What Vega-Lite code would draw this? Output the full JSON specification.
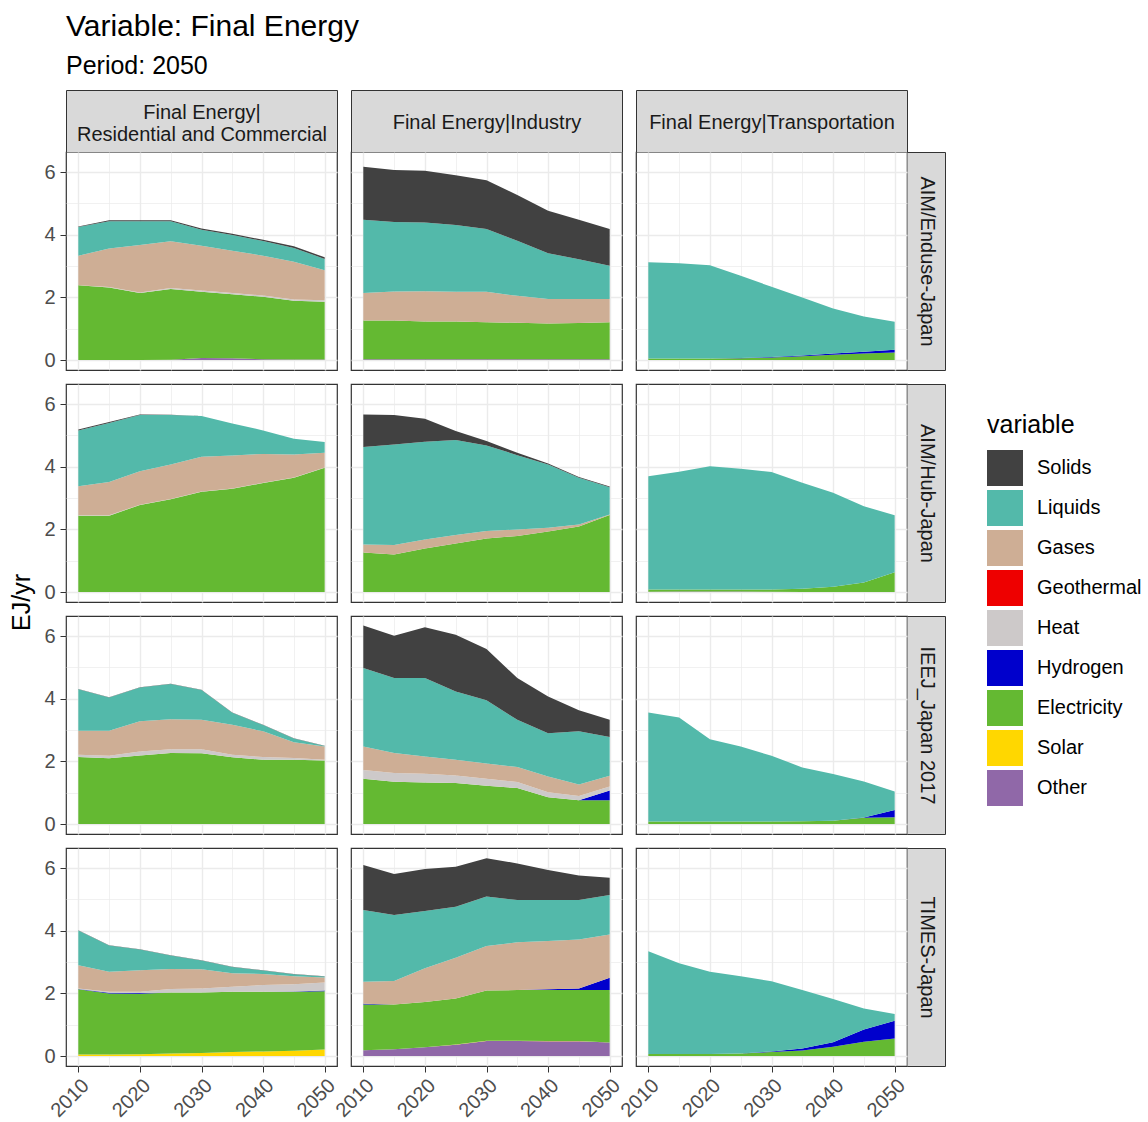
{
"$schema": "https://vega.github.io/schema/vega-lite/v6.json",
"padding": {"left": 8, "top": 11, "right": 4, "bottom": 4},
"title": {"text": "Variable: Final Energy", "subtitle": "Period: 2050", "anchor": "start", "frame": "group", "font": "Liberation Sans", "fontSize": 30, "fontWeight": "normal", "color": "#000000", "subtitleFont": "Liberation Sans", "subtitleFontSize": 25, "subtitleColor": "#000000", "subtitlePadding": 12, "offset": 10},
"datasets": {
"ord": [{"variable":"Other","rank":1},{"variable":"Solar","rank":2},{"variable":"Electricity","rank":3},{"variable":"Hydrogen","rank":4},{"variable":"Heat","rank":5},{"variable":"Geothermal","rank":6},{"variable":"Gases","rank":7},{"variable":"Liquids","rank":8},{"variable":"Solids","rank":9}],
"frame": [{"year":2010,"value":0}],
"enduse_res": [
{"variable":"Other","year":2010,"value":0},{"variable":"Other","year":2015,"value":0},{"variable":"Other","year":2020,"value":0},{"variable":"Other","year":2025,"value":0.01},{"variable":"Other","year":2030,"value":0.07},{"variable":"Other","year":2035,"value":0.06},{"variable":"Other","year":2040,"value":0.03},{"variable":"Other","year":2045,"value":0.02},{"variable":"Other","year":2050,"value":0.02},
{"variable":"Electricity","year":2010,"value":2.39},{"variable":"Electricity","year":2015,"value":2.32},{"variable":"Electricity","year":2020,"value":2.14},{"variable":"Electricity","year":2025,"value":2.26},{"variable":"Electricity","year":2030,"value":2.11},{"variable":"Electricity","year":2035,"value":2.04},{"variable":"Electricity","year":2040,"value":1.99},{"variable":"Electricity","year":2045,"value":1.87},{"variable":"Electricity","year":2050,"value":1.84},
{"variable":"Heat","year":2010,"value":0},{"variable":"Heat","year":2015,"value":0.01},{"variable":"Heat","year":2020,"value":0.02},{"variable":"Heat","year":2025,"value":0.03},{"variable":"Heat","year":2030,"value":0.04},{"variable":"Heat","year":2035,"value":0.04},{"variable":"Heat","year":2040,"value":0.04},{"variable":"Heat","year":2045,"value":0.04},{"variable":"Heat","year":2050,"value":0.05},
{"variable":"Gases","year":2010,"value":0.94},{"variable":"Gases","year":2015,"value":1.23},{"variable":"Gases","year":2020,"value":1.51},{"variable":"Gases","year":2025,"value":1.49},{"variable":"Gases","year":2030,"value":1.43},{"variable":"Gases","year":2035,"value":1.35},{"variable":"Gases","year":2040,"value":1.27},{"variable":"Gases","year":2045,"value":1.21},{"variable":"Gases","year":2050,"value":0.96},
{"variable":"Liquids","year":2010,"value":0.92},{"variable":"Liquids","year":2015,"value":0.87},{"variable":"Liquids","year":2020,"value":0.76},{"variable":"Liquids","year":2025,"value":0.64},{"variable":"Liquids","year":2030,"value":0.51},{"variable":"Liquids","year":2035,"value":0.50},{"variable":"Liquids","year":2040,"value":0.47},{"variable":"Liquids","year":2045,"value":0.44},{"variable":"Liquids","year":2050,"value":0.36},
{"variable":"Solids","year":2010,"value":0.01},{"variable":"Solids","year":2015,"value":0.03},{"variable":"Solids","year":2020,"value":0.03},{"variable":"Solids","year":2025,"value":0.03},{"variable":"Solids","year":2030,"value":0.04},{"variable":"Solids","year":2035,"value":0.04},{"variable":"Solids","year":2040,"value":0.04},{"variable":"Solids","year":2045,"value":0.05},{"variable":"Solids","year":2050,"value":0.05}
],
"enduse_ind": [
{"variable":"Other","year":2010,"value":0.03},{"variable":"Other","year":2015,"value":0.03},{"variable":"Other","year":2020,"value":0.03},{"variable":"Other","year":2025,"value":0.03},{"variable":"Other","year":2030,"value":0.03},{"variable":"Other","year":2035,"value":0.03},{"variable":"Other","year":2040,"value":0.03},{"variable":"Other","year":2045,"value":0.03},{"variable":"Other","year":2050,"value":0.03},
{"variable":"Electricity","year":2010,"value":1.23},{"variable":"Electricity","year":2015,"value":1.23},{"variable":"Electricity","year":2020,"value":1.20},{"variable":"Electricity","year":2025,"value":1.20},{"variable":"Electricity","year":2030,"value":1.18},{"variable":"Electricity","year":2035,"value":1.16},{"variable":"Electricity","year":2040,"value":1.14},{"variable":"Electricity","year":2045,"value":1.15},{"variable":"Electricity","year":2050,"value":1.18},
{"variable":"Gases","year":2010,"value":0.88},{"variable":"Gases","year":2015,"value":0.93},{"variable":"Gases","year":2020,"value":0.97},{"variable":"Gases","year":2025,"value":0.95},{"variable":"Gases","year":2030,"value":0.97},{"variable":"Gases","year":2035,"value":0.86},{"variable":"Gases","year":2040,"value":0.78},{"variable":"Gases","year":2045,"value":0.77},{"variable":"Gases","year":2050,"value":0.74},
{"variable":"Liquids","year":2010,"value":2.34},{"variable":"Liquids","year":2015,"value":2.22},{"variable":"Liquids","year":2020,"value":2.19},{"variable":"Liquids","year":2025,"value":2.13},{"variable":"Liquids","year":2030,"value":2.00},{"variable":"Liquids","year":2035,"value":1.76},{"variable":"Liquids","year":2040,"value":1.46},{"variable":"Liquids","year":2045,"value":1.27},{"variable":"Liquids","year":2050,"value":1.06},
{"variable":"Solids","year":2010,"value":1.69},{"variable":"Solids","year":2015,"value":1.66},{"variable":"Solids","year":2020,"value":1.65},{"variable":"Solids","year":2025,"value":1.59},{"variable":"Solids","year":2030,"value":1.56},{"variable":"Solids","year":2035,"value":1.46},{"variable":"Solids","year":2040,"value":1.36},{"variable":"Solids","year":2045,"value":1.26},{"variable":"Solids","year":2050,"value":1.17}
],
"enduse_tra": [
{"variable":"Electricity","year":2010,"value":0.05},{"variable":"Electricity","year":2015,"value":0.05},{"variable":"Electricity","year":2020,"value":0.05},{"variable":"Electricity","year":2025,"value":0.06},{"variable":"Electricity","year":2030,"value":0.08},{"variable":"Electricity","year":2035,"value":0.12},{"variable":"Electricity","year":2040,"value":0.17},{"variable":"Electricity","year":2045,"value":0.21},{"variable":"Electricity","year":2050,"value":0.24},
{"variable":"Hydrogen","year":2010,"value":0},{"variable":"Hydrogen","year":2015,"value":0},{"variable":"Hydrogen","year":2020,"value":0},{"variable":"Hydrogen","year":2025,"value":0.01},{"variable":"Hydrogen","year":2030,"value":0.02},{"variable":"Hydrogen","year":2035,"value":0.03},{"variable":"Hydrogen","year":2040,"value":0.04},{"variable":"Hydrogen","year":2045,"value":0.06},{"variable":"Hydrogen","year":2050,"value":0.09},
{"variable":"Liquids","year":2010,"value":3.07},{"variable":"Liquids","year":2015,"value":3.04},{"variable":"Liquids","year":2020,"value":2.98},{"variable":"Liquids","year":2025,"value":2.62},{"variable":"Liquids","year":2030,"value":2.24},{"variable":"Liquids","year":2035,"value":1.85},{"variable":"Liquids","year":2040,"value":1.44},{"variable":"Liquids","year":2045,"value":1.12},{"variable":"Liquids","year":2050,"value":0.89}
],
"hub_res": [
{"variable":"Electricity","year":2010,"value":2.44},{"variable":"Electricity","year":2015,"value":2.44},{"variable":"Electricity","year":2020,"value":2.78},{"variable":"Electricity","year":2025,"value":2.96},{"variable":"Electricity","year":2030,"value":3.20},{"variable":"Electricity","year":2035,"value":3.30},{"variable":"Electricity","year":2040,"value":3.48},{"variable":"Electricity","year":2045,"value":3.65},{"variable":"Electricity","year":2050,"value":3.97},
{"variable":"Heat","year":2010,"value":0.01},{"variable":"Heat","year":2015,"value":0.01},{"variable":"Heat","year":2020,"value":0.01},{"variable":"Heat","year":2025,"value":0.01},{"variable":"Heat","year":2030,"value":0.01},{"variable":"Heat","year":2035,"value":0.01},{"variable":"Heat","year":2040,"value":0.01},{"variable":"Heat","year":2045,"value":0.01},{"variable":"Heat","year":2050,"value":0.01},
{"variable":"Gases","year":2010,"value":0.93},{"variable":"Gases","year":2015,"value":1.06},{"variable":"Gases","year":2020,"value":1.07},{"variable":"Gases","year":2025,"value":1.10},{"variable":"Gases","year":2030,"value":1.11},{"variable":"Gases","year":2035,"value":1.05},{"variable":"Gases","year":2040,"value":0.92},{"variable":"Gases","year":2045,"value":0.73},{"variable":"Gases","year":2050,"value":0.47},
{"variable":"Liquids","year":2010,"value":1.78},{"variable":"Liquids","year":2015,"value":1.89},{"variable":"Liquids","year":2020,"value":1.79},{"variable":"Liquids","year":2025,"value":1.58},{"variable":"Liquids","year":2030,"value":1.30},{"variable":"Liquids","year":2035,"value":1.02},{"variable":"Liquids","year":2040,"value":0.75},{"variable":"Liquids","year":2045,"value":0.50},{"variable":"Liquids","year":2050,"value":0.34},
{"variable":"Solids","year":2010,"value":0.03},{"variable":"Solids","year":2015,"value":0.03},{"variable":"Solids","year":2020,"value":0.02},{"variable":"Solids","year":2025,"value":0.01},{"variable":"Solids","year":2030,"value":0},{"variable":"Solids","year":2035,"value":0},{"variable":"Solids","year":2040,"value":0},{"variable":"Solids","year":2045,"value":0},{"variable":"Solids","year":2050,"value":0}
],
"hub_ind": [
{"variable":"Electricity","year":2010,"value":1.26},{"variable":"Electricity","year":2015,"value":1.20},{"variable":"Electricity","year":2020,"value":1.39},{"variable":"Electricity","year":2025,"value":1.55},{"variable":"Electricity","year":2030,"value":1.71},{"variable":"Electricity","year":2035,"value":1.79},{"variable":"Electricity","year":2040,"value":1.93},{"variable":"Electricity","year":2045,"value":2.09},{"variable":"Electricity","year":2050,"value":2.46},
{"variable":"Gases","year":2010,"value":0.26},{"variable":"Gases","year":2015,"value":0.30},{"variable":"Gases","year":2020,"value":0.29},{"variable":"Gases","year":2025,"value":0.27},{"variable":"Gases","year":2030,"value":0.24},{"variable":"Gases","year":2035,"value":0.21},{"variable":"Gases","year":2040,"value":0.12},{"variable":"Gases","year":2045,"value":0.07},{"variable":"Gases","year":2050,"value":0.02},
{"variable":"Liquids","year":2010,"value":3.11},{"variable":"Liquids","year":2015,"value":3.21},{"variable":"Liquids","year":2020,"value":3.12},{"variable":"Liquids","year":2025,"value":3.03},{"variable":"Liquids","year":2030,"value":2.73},{"variable":"Liquids","year":2035,"value":2.37},{"variable":"Liquids","year":2040,"value":2.02},{"variable":"Liquids","year":2045,"value":1.49},{"variable":"Liquids","year":2050,"value":0.87},
{"variable":"Solids","year":2010,"value":1.04},{"variable":"Solids","year":2015,"value":0.94},{"variable":"Solids","year":2020,"value":0.73},{"variable":"Solids","year":2025,"value":0.29},{"variable":"Solids","year":2030,"value":0.14},{"variable":"Solids","year":2035,"value":0.08},{"variable":"Solids","year":2040,"value":0.03},{"variable":"Solids","year":2045,"value":0.02},{"variable":"Solids","year":2050,"value":0.02}
],
"hub_tra": [
{"variable":"Other","year":2010,"value":0.01},{"variable":"Other","year":2015,"value":0.02},{"variable":"Other","year":2020,"value":0.02},{"variable":"Other","year":2025,"value":0.02},{"variable":"Other","year":2030,"value":0.01},{"variable":"Other","year":2035,"value":0},{"variable":"Other","year":2040,"value":0},{"variable":"Other","year":2045,"value":0},{"variable":"Other","year":2050,"value":0},
{"variable":"Electricity","year":2010,"value":0.07},{"variable":"Electricity","year":2015,"value":0.06},{"variable":"Electricity","year":2020,"value":0.06},{"variable":"Electricity","year":2025,"value":0.06},{"variable":"Electricity","year":2030,"value":0.07},{"variable":"Electricity","year":2035,"value":0.11},{"variable":"Electricity","year":2040,"value":0.17},{"variable":"Electricity","year":2045,"value":0.31},{"variable":"Electricity","year":2050,"value":0.63},
{"variable":"Liquids","year":2010,"value":3.62},{"variable":"Liquids","year":2015,"value":3.76},{"variable":"Liquids","year":2020,"value":3.94},{"variable":"Liquids","year":2025,"value":3.86},{"variable":"Liquids","year":2030,"value":3.75},{"variable":"Liquids","year":2035,"value":3.38},{"variable":"Liquids","year":2040,"value":3.00},{"variable":"Liquids","year":2045,"value":2.43},{"variable":"Liquids","year":2050,"value":1.82}
],
"ieej_res": [
{"variable":"Electricity","year":2010,"value":2.14},{"variable":"Electricity","year":2015,"value":2.10},{"variable":"Electricity","year":2020,"value":2.19},{"variable":"Electricity","year":2025,"value":2.27},{"variable":"Electricity","year":2030,"value":2.26},{"variable":"Electricity","year":2035,"value":2.13},{"variable":"Electricity","year":2040,"value":2.05},{"variable":"Electricity","year":2045,"value":2.05},{"variable":"Electricity","year":2050,"value":2.03},
{"variable":"Heat","year":2010,"value":0.07},{"variable":"Heat","year":2015,"value":0.08},{"variable":"Heat","year":2020,"value":0.13},{"variable":"Heat","year":2025,"value":0.12},{"variable":"Heat","year":2030,"value":0.13},{"variable":"Heat","year":2035,"value":0.08},{"variable":"Heat","year":2040,"value":0.09},{"variable":"Heat","year":2045,"value":0.06},{"variable":"Heat","year":2050,"value":0.02},
{"variable":"Gases","year":2010,"value":0.77},{"variable":"Gases","year":2015,"value":0.80},{"variable":"Gases","year":2020,"value":0.96},{"variable":"Gases","year":2025,"value":0.96},{"variable":"Gases","year":2030,"value":0.94},{"variable":"Gases","year":2035,"value":0.96},{"variable":"Gases","year":2040,"value":0.82},{"variable":"Gases","year":2045,"value":0.50},{"variable":"Gases","year":2050,"value":0.43},
{"variable":"Liquids","year":2010,"value":1.32},{"variable":"Liquids","year":2015,"value":1.06},{"variable":"Liquids","year":2020,"value":1.08},{"variable":"Liquids","year":2025,"value":1.12},{"variable":"Liquids","year":2030,"value":0.95},{"variable":"Liquids","year":2035,"value":0.38},{"variable":"Liquids","year":2040,"value":0.20},{"variable":"Liquids","year":2045,"value":0.12},{"variable":"Liquids","year":2050,"value":0.01},
{"variable":"Solids","year":2010,"value":0.01},{"variable":"Solids","year":2015,"value":0.01},{"variable":"Solids","year":2020,"value":0.01},{"variable":"Solids","year":2025,"value":0.01},{"variable":"Solids","year":2030,"value":0.01},{"variable":"Solids","year":2035,"value":0.01},{"variable":"Solids","year":2040,"value":0.01},{"variable":"Solids","year":2045,"value":0.01},{"variable":"Solids","year":2050,"value":0.01}
],
"ieej_ind": [
{"variable":"Electricity","year":2010,"value":1.45},{"variable":"Electricity","year":2015,"value":1.35},{"variable":"Electricity","year":2020,"value":1.33},{"variable":"Electricity","year":2025,"value":1.31},{"variable":"Electricity","year":2030,"value":1.22},{"variable":"Electricity","year":2035,"value":1.15},{"variable":"Electricity","year":2040,"value":0.86},{"variable":"Electricity","year":2045,"value":0.76},{"variable":"Electricity","year":2050,"value":0.76},
{"variable":"Hydrogen","year":2010,"value":0},{"variable":"Hydrogen","year":2015,"value":0},{"variable":"Hydrogen","year":2020,"value":0},{"variable":"Hydrogen","year":2025,"value":0},{"variable":"Hydrogen","year":2030,"value":0},{"variable":"Hydrogen","year":2035,"value":0},{"variable":"Hydrogen","year":2040,"value":0},{"variable":"Hydrogen","year":2045,"value":0},{"variable":"Hydrogen","year":2050,"value":0.31},
{"variable":"Heat","year":2010,"value":0.28},{"variable":"Heat","year":2015,"value":0.28},{"variable":"Heat","year":2020,"value":0.28},{"variable":"Heat","year":2025,"value":0.24},{"variable":"Heat","year":2030,"value":0.23},{"variable":"Heat","year":2035,"value":0.19},{"variable":"Heat","year":2040,"value":0.16},{"variable":"Heat","year":2045,"value":0.14},{"variable":"Heat","year":2050,"value":0.13},
{"variable":"Gases","year":2010,"value":0.75},{"variable":"Gases","year":2015,"value":0.64},{"variable":"Gases","year":2020,"value":0.55},{"variable":"Gases","year":2025,"value":0.50},{"variable":"Gases","year":2030,"value":0.48},{"variable":"Gases","year":2035,"value":0.48},{"variable":"Gases","year":2040,"value":0.50},{"variable":"Gases","year":2045,"value":0.36},{"variable":"Gases","year":2050,"value":0.34},
{"variable":"Liquids","year":2010,"value":2.50},{"variable":"Liquids","year":2015,"value":2.39},{"variable":"Liquids","year":2020,"value":2.50},{"variable":"Liquids","year":2025,"value":2.18},{"variable":"Liquids","year":2030,"value":2.02},{"variable":"Liquids","year":2035,"value":1.51},{"variable":"Liquids","year":2040,"value":1.38},{"variable":"Liquids","year":2045,"value":1.70},{"variable":"Liquids","year":2050,"value":1.24},
{"variable":"Solids","year":2010,"value":1.36},{"variable":"Solids","year":2015,"value":1.35},{"variable":"Solids","year":2020,"value":1.62},{"variable":"Solids","year":2025,"value":1.81},{"variable":"Solids","year":2030,"value":1.64},{"variable":"Solids","year":2035,"value":1.33},{"variable":"Solids","year":2040,"value":1.17},{"variable":"Solids","year":2045,"value":0.67},{"variable":"Solids","year":2050,"value":0.55}
],
"ieej_tra": [
{"variable":"Electricity","year":2010,"value":0.08},{"variable":"Electricity","year":2015,"value":0.08},{"variable":"Electricity","year":2020,"value":0.08},{"variable":"Electricity","year":2025,"value":0.08},{"variable":"Electricity","year":2030,"value":0.08},{"variable":"Electricity","year":2035,"value":0.09},{"variable":"Electricity","year":2040,"value":0.11},{"variable":"Electricity","year":2045,"value":0.20},{"variable":"Electricity","year":2050,"value":0.22},
{"variable":"Hydrogen","year":2010,"value":0},{"variable":"Hydrogen","year":2015,"value":0},{"variable":"Hydrogen","year":2020,"value":0},{"variable":"Hydrogen","year":2025,"value":0},{"variable":"Hydrogen","year":2030,"value":0},{"variable":"Hydrogen","year":2035,"value":0},{"variable":"Hydrogen","year":2040,"value":0},{"variable":"Hydrogen","year":2045,"value":0.01},{"variable":"Hydrogen","year":2050,"value":0.23},
{"variable":"Liquids","year":2010,"value":3.48},{"variable":"Liquids","year":2015,"value":3.32},{"variable":"Liquids","year":2020,"value":2.63},{"variable":"Liquids","year":2025,"value":2.40},{"variable":"Liquids","year":2030,"value":2.10},{"variable":"Liquids","year":2035,"value":1.72},{"variable":"Liquids","year":2040,"value":1.49},{"variable":"Liquids","year":2045,"value":1.15},{"variable":"Liquids","year":2050,"value":0.59}
],
"times_res": [
{"variable":"Solar","year":2010,"value":0.05},{"variable":"Solar","year":2015,"value":0.05},{"variable":"Solar","year":2020,"value":0.06},{"variable":"Solar","year":2025,"value":0.08},{"variable":"Solar","year":2030,"value":0.10},{"variable":"Solar","year":2035,"value":0.13},{"variable":"Solar","year":2040,"value":0.15},{"variable":"Solar","year":2045,"value":0.17},{"variable":"Solar","year":2050,"value":0.21},
{"variable":"Electricity","year":2010,"value":2.08},{"variable":"Electricity","year":2015,"value":1.95},{"variable":"Electricity","year":2020,"value":1.93},{"variable":"Electricity","year":2025,"value":1.95},{"variable":"Electricity","year":2030,"value":1.93},{"variable":"Electricity","year":2035,"value":1.92},{"variable":"Electricity","year":2040,"value":1.90},{"variable":"Electricity","year":2045,"value":1.88},{"variable":"Electricity","year":2050,"value":1.86},
{"variable":"Hydrogen","year":2010,"value":0.01},{"variable":"Hydrogen","year":2015,"value":0.02},{"variable":"Hydrogen","year":2020,"value":0.02},{"variable":"Hydrogen","year":2025,"value":0},{"variable":"Hydrogen","year":2030,"value":0},{"variable":"Hydrogen","year":2035,"value":0},{"variable":"Hydrogen","year":2040,"value":0},{"variable":"Hydrogen","year":2045,"value":0.01},{"variable":"Hydrogen","year":2050,"value":0.02},
{"variable":"Heat","year":2010,"value":0.02},{"variable":"Heat","year":2015,"value":0.03},{"variable":"Heat","year":2020,"value":0.04},{"variable":"Heat","year":2025,"value":0.11},{"variable":"Heat","year":2030,"value":0.13},{"variable":"Heat","year":2035,"value":0.16},{"variable":"Heat","year":2040,"value":0.22},{"variable":"Heat","year":2045,"value":0.23},{"variable":"Heat","year":2050,"value":0.26},
{"variable":"Gases","year":2010,"value":0.74},{"variable":"Gases","year":2015,"value":0.64},{"variable":"Gases","year":2020,"value":0.69},{"variable":"Gases","year":2025,"value":0.64},{"variable":"Gases","year":2030,"value":0.61},{"variable":"Gases","year":2035,"value":0.43},{"variable":"Gases","year":2040,"value":0.35},{"variable":"Gases","year":2045,"value":0.26},{"variable":"Gases","year":2050,"value":0.16},
{"variable":"Liquids","year":2010,"value":1.11},{"variable":"Liquids","year":2015,"value":0.84},{"variable":"Liquids","year":2020,"value":0.66},{"variable":"Liquids","year":2025,"value":0.43},{"variable":"Liquids","year":2030,"value":0.28},{"variable":"Liquids","year":2035,"value":0.20},{"variable":"Liquids","year":2040,"value":0.11},{"variable":"Liquids","year":2045,"value":0.06},{"variable":"Liquids","year":2050,"value":0.03},
{"variable":"Solids","year":2010,"value":0.01},{"variable":"Solids","year":2015,"value":0.01},{"variable":"Solids","year":2020,"value":0.01},{"variable":"Solids","year":2025,"value":0.01},{"variable":"Solids","year":2030,"value":0.01},{"variable":"Solids","year":2035,"value":0.01},{"variable":"Solids","year":2040,"value":0.01},{"variable":"Solids","year":2045,"value":0.01},{"variable":"Solids","year":2050,"value":0.01}
],
"times_ind": [
{"variable":"Other","year":2010,"value":0.19},{"variable":"Other","year":2015,"value":0.22},{"variable":"Other","year":2020,"value":0.28},{"variable":"Other","year":2025,"value":0.36},{"variable":"Other","year":2030,"value":0.48},{"variable":"Other","year":2035,"value":0.48},{"variable":"Other","year":2040,"value":0.47},{"variable":"Other","year":2045,"value":0.47},{"variable":"Other","year":2050,"value":0.43},
{"variable":"Solar","year":2010,"value":0},{"variable":"Solar","year":2015,"value":0},{"variable":"Solar","year":2020,"value":0},{"variable":"Solar","year":2025,"value":0.01},{"variable":"Solar","year":2030,"value":0.01},{"variable":"Solar","year":2035,"value":0.01},{"variable":"Solar","year":2040,"value":0.01},{"variable":"Solar","year":2045,"value":0.01},{"variable":"Solar","year":2050,"value":0},
{"variable":"Electricity","year":2010,"value":1.46},{"variable":"Electricity","year":2015,"value":1.43},{"variable":"Electricity","year":2020,"value":1.45},{"variable":"Electricity","year":2025,"value":1.47},{"variable":"Electricity","year":2030,"value":1.60},{"variable":"Electricity","year":2035,"value":1.62},{"variable":"Electricity","year":2040,"value":1.63},{"variable":"Electricity","year":2045,"value":1.63},{"variable":"Electricity","year":2050,"value":1.68},
{"variable":"Hydrogen","year":2010,"value":0.02},{"variable":"Hydrogen","year":2015,"value":0},{"variable":"Hydrogen","year":2020,"value":0},{"variable":"Hydrogen","year":2025,"value":0},{"variable":"Hydrogen","year":2030,"value":0},{"variable":"Hydrogen","year":2035,"value":0},{"variable":"Hydrogen","year":2040,"value":0.02},{"variable":"Hydrogen","year":2045,"value":0.05},{"variable":"Hydrogen","year":2050,"value":0.39},
{"variable":"Gases","year":2010,"value":0.70},{"variable":"Gases","year":2015,"value":0.75},{"variable":"Gases","year":2020,"value":1.07},{"variable":"Gases","year":2025,"value":1.30},{"variable":"Gases","year":2030,"value":1.42},{"variable":"Gases","year":2035,"value":1.52},{"variable":"Gases","year":2040,"value":1.54},{"variable":"Gases","year":2045,"value":1.56},{"variable":"Gases","year":2050,"value":1.38},
{"variable":"Liquids","year":2010,"value":2.29},{"variable":"Liquids","year":2015,"value":2.10},{"variable":"Liquids","year":2020,"value":1.83},{"variable":"Liquids","year":2025,"value":1.63},{"variable":"Liquids","year":2030,"value":1.58},{"variable":"Liquids","year":2035,"value":1.35},{"variable":"Liquids","year":2040,"value":1.31},{"variable":"Liquids","year":2045,"value":1.26},{"variable":"Liquids","year":2050,"value":1.26},
{"variable":"Solids","year":2010,"value":1.44},{"variable":"Solids","year":2015,"value":1.31},{"variable":"Solids","year":2020,"value":1.34},{"variable":"Solids","year":2025,"value":1.27},{"variable":"Solids","year":2030,"value":1.22},{"variable":"Solids","year":2035,"value":1.17},{"variable":"Solids","year":2040,"value":0.96},{"variable":"Solids","year":2045,"value":0.78},{"variable":"Solids","year":2050,"value":0.55}
],
"times_tra": [
{"variable":"Electricity","year":2010,"value":0.07},{"variable":"Electricity","year":2015,"value":0.07},{"variable":"Electricity","year":2020,"value":0.07},{"variable":"Electricity","year":2025,"value":0.08},{"variable":"Electricity","year":2030,"value":0.13},{"variable":"Electricity","year":2035,"value":0.18},{"variable":"Electricity","year":2040,"value":0.30},{"variable":"Electricity","year":2045,"value":0.46},{"variable":"Electricity","year":2050,"value":0.56},
{"variable":"Hydrogen","year":2010,"value":0},{"variable":"Hydrogen","year":2015,"value":0},{"variable":"Hydrogen","year":2020,"value":0},{"variable":"Hydrogen","year":2025,"value":0},{"variable":"Hydrogen","year":2030,"value":0.02},{"variable":"Hydrogen","year":2035,"value":0.06},{"variable":"Hydrogen","year":2040,"value":0.14},{"variable":"Hydrogen","year":2045,"value":0.39},{"variable":"Hydrogen","year":2050,"value":0.57},
{"variable":"Liquids","year":2010,"value":3.28},{"variable":"Liquids","year":2015,"value":2.89},{"variable":"Liquids","year":2020,"value":2.62},{"variable":"Liquids","year":2025,"value":2.47},{"variable":"Liquids","year":2030,"value":2.24},{"variable":"Liquids","year":2035,"value":1.87},{"variable":"Liquids","year":2040,"value":1.38},{"variable":"Liquids","year":2045,"value":0.67},{"variable":"Liquids","year":2050,"value":0.21}
]
},
"columns": 3,
"spacing": 14,
"bounds": "flush",
"concat": [
{"width":271,"height":218,"resolve":{"axis":{"x":"independent","y":"independent"}},"layer":[
 {"data":{"name":"enduse_res"},"transform":[{"lookup":"variable","from":{"data":{"name":"ord"},"key":"variable","fields":["rank"]}}],"mark":{"type":"area","opacity":1},
  "encoding":{"x":{"field":"year","type":"quantitative","scale":{"domain":[2008,2052],"nice":false,"zero":false},"axis":{"values":[2010,2015,2020,2025,2030,2035,2040,2045,2050],"labels":false,"ticks":false,"domain":false,"grid":true,"gridColor":"#ebebeb","gridWidth":{"condition":{"test":"datum.value % 10 !== 0","value":0.7},"value":1.4},"title":null}},
   "y":{"field":"value","type":"quantitative","stack":"zero","scale":{"domain":[-0.316,6.641],"nice":false,"zero":false},"axis":{"values":[0,1,2,3,4,5,6],"labelExpr":"datum.value % 2 === 0 ? datum.label : ''","labelFontSize":20,"labelColor":"#4d4d4d","labelPadding":5,"ticks":true,"tickSize":6,"tickColor":"#333333","tickOpacity":{"condition":{"test":"datum.value % 2 !== 0","value":0},"value":1},"domain":false,"grid":true,"gridColor":"#ebebeb","gridWidth":{"condition":{"test":"datum.value % 2 !== 0","value":0.7},"value":1.4},"title":null}},
   "color":{"field":"variable","type":"nominal","scale":{"domain":["Solids","Liquids","Gases","Geothermal","Heat","Hydrogen","Electricity","Solar","Other"],"range":["#414141","#53b9aa","#ceae95","#ee0000","#cdc9c9","#0000cc","#64b932","#ffd700","#9068a8"]},"legend":{"title":"variable"}},
   "order":{"field":"rank","type":"quantitative"}}},
 {"data":{"name":"frame"},"mark":{"type":"point","opacity":0},"encoding":{"x":{"field":"year","type":"quantitative","scale":{"domain":[2008,2052],"nice":false,"zero":false},"axis":{"orient":"top","offset":31,"domain":true,"domainColor":"#d9d9d9","domainWidth":62,"ticks":false,"labels":false,"grid":false,"title":["Final Energy|","Residential and Commercial"],"titleFontSize":20,"titleFontWeight":"normal","titleColor":"#1a1a1a","titleX":135.5,"titleY":-9,"titleAlign":"center","titleBaseline":"middle","titleLineHeight":22,"titleAngle":0}},"y":{"field":"value","type":"quantitative","scale":{"domain":[-0.316,6.641],"nice":false,"zero":false},"axis":null}}},
 {"data":{"name":"frame"},"mark":{"type":"point","opacity":0},"encoding":{"x":{"field":"year","type":"quantitative","scale":{"domain":[2008,2052],"nice":false,"zero":false},"axis":{"orient":"top","offset":62,"domain":true,"domainColor":"#333333","domainWidth":1,"ticks":true,"values":[2008,2052],"tickSize":-62,"tickColor":"#333333","tickWidth":1,"labels":false,"grid":false,"title":null,"zindex":1}},"y":{"field":"value","type":"quantitative","scale":{"domain":[-0.316,6.641],"nice":false,"zero":false},"axis":null}}}
]},
{"width":271,"height":218,"resolve":{"axis":{"x":"independent","y":"independent"}},"layer":[
 {"data":{"name":"enduse_ind"},"transform":[{"lookup":"variable","from":{"data":{"name":"ord"},"key":"variable","fields":["rank"]}}],"mark":{"type":"area","opacity":1},
  "encoding":{"x":{"field":"year","type":"quantitative","scale":{"domain":[2008,2052],"nice":false,"zero":false},"axis":{"values":[2010,2015,2020,2025,2030,2035,2040,2045,2050],"labels":false,"ticks":false,"domain":false,"grid":true,"gridColor":"#ebebeb","gridWidth":{"condition":{"test":"datum.value % 10 !== 0","value":0.7},"value":1.4},"title":null}},
   "y":{"field":"value","type":"quantitative","stack":"zero","scale":{"domain":[-0.316,6.641],"nice":false,"zero":false},"axis":{"values":[0,1,2,3,4,5,6],"labels":false,"ticks":false,"domain":false,"grid":true,"gridColor":"#ebebeb","gridWidth":{"condition":{"test":"datum.value % 2 !== 0","value":0.7},"value":1.4},"title":null}},
   "color":{"field":"variable","type":"nominal","scale":{"domain":["Solids","Liquids","Gases","Geothermal","Heat","Hydrogen","Electricity","Solar","Other"],"range":["#414141","#53b9aa","#ceae95","#ee0000","#cdc9c9","#0000cc","#64b932","#ffd700","#9068a8"]},"legend":{"title":"variable"}},
   "order":{"field":"rank","type":"quantitative"}}},
 {"data":{"name":"frame"},"mark":{"type":"point","opacity":0},"encoding":{"x":{"field":"year","type":"quantitative","scale":{"domain":[2008,2052],"nice":false,"zero":false},"axis":{"orient":"top","offset":31,"domain":true,"domainColor":"#d9d9d9","domainWidth":62,"ticks":false,"labels":false,"grid":false,"title":"Final Energy|Industry","titleFontSize":20,"titleFontWeight":"normal","titleColor":"#1a1a1a","titleX":135.5,"titleY":1,"titleAlign":"center","titleBaseline":"middle","titleLineHeight":22,"titleAngle":0}},"y":{"field":"value","type":"quantitative","scale":{"domain":[-0.316,6.641],"nice":false,"zero":false},"axis":null}}},
 {"data":{"name":"frame"},"mark":{"type":"point","opacity":0},"encoding":{"x":{"field":"year","type":"quantitative","scale":{"domain":[2008,2052],"nice":false,"zero":false},"axis":{"orient":"top","offset":62,"domain":true,"domainColor":"#333333","domainWidth":1,"ticks":true,"values":[2008,2052],"tickSize":-62,"tickColor":"#333333","tickWidth":1,"labels":false,"grid":false,"title":null,"zindex":1}},"y":{"field":"value","type":"quantitative","scale":{"domain":[-0.316,6.641],"nice":false,"zero":false},"axis":null}}}
]},
{"width":271,"height":218,"resolve":{"axis":{"x":"independent","y":"independent"}},"layer":[
 {"data":{"name":"enduse_tra"},"transform":[{"lookup":"variable","from":{"data":{"name":"ord"},"key":"variable","fields":["rank"]}}],"mark":{"type":"area","opacity":1},
  "encoding":{"x":{"field":"year","type":"quantitative","scale":{"domain":[2008,2052],"nice":false,"zero":false},"axis":{"values":[2010,2015,2020,2025,2030,2035,2040,2045,2050],"labels":false,"ticks":false,"domain":false,"grid":true,"gridColor":"#ebebeb","gridWidth":{"condition":{"test":"datum.value % 10 !== 0","value":0.7},"value":1.4},"title":null}},
   "y":{"field":"value","type":"quantitative","stack":"zero","scale":{"domain":[-0.316,6.641],"nice":false,"zero":false},"axis":{"values":[0,1,2,3,4,5,6],"labels":false,"ticks":false,"domain":false,"grid":true,"gridColor":"#ebebeb","gridWidth":{"condition":{"test":"datum.value % 2 !== 0","value":0.7},"value":1.4},"title":null}},
   "color":{"field":"variable","type":"nominal","scale":{"domain":["Solids","Liquids","Gases","Geothermal","Heat","Hydrogen","Electricity","Solar","Other"],"range":["#414141","#53b9aa","#ceae95","#ee0000","#cdc9c9","#0000cc","#64b932","#ffd700","#9068a8"]},"legend":{"title":"variable"}},
   "order":{"field":"rank","type":"quantitative"}}},
 {"data":{"name":"frame"},"mark":{"type":"point","opacity":0},"encoding":{"x":{"field":"year","type":"quantitative","scale":{"domain":[2008,2052],"nice":false,"zero":false},"axis":{"orient":"top","offset":31,"domain":true,"domainColor":"#d9d9d9","domainWidth":62,"ticks":false,"labels":false,"grid":false,"title":"Final Energy|Transportation","titleFontSize":20,"titleFontWeight":"normal","titleColor":"#1a1a1a","titleX":135.5,"titleY":1,"titleAlign":"center","titleBaseline":"middle","titleLineHeight":22,"titleAngle":0}},"y":{"field":"value","type":"quantitative","scale":{"domain":[-0.316,6.641],"nice":false,"zero":false},"axis":null}}},
 {"data":{"name":"frame"},"mark":{"type":"point","opacity":0},"encoding":{"x":{"field":"year","type":"quantitative","scale":{"domain":[2008,2052],"nice":false,"zero":false},"axis":{"orient":"top","offset":62,"domain":true,"domainColor":"#333333","domainWidth":1,"ticks":true,"values":[2008,2052],"tickSize":-62,"tickColor":"#333333","tickWidth":1,"labels":false,"grid":false,"title":null,"zindex":1}},"y":{"field":"value","type":"quantitative","scale":{"domain":[-0.316,6.641],"nice":false,"zero":false},"axis":null}}},
 {"data":{"name":"frame"},"mark":{"type":"point","opacity":0},"encoding":{"x":{"field":"year","type":"quantitative","scale":{"domain":[2008,2052],"nice":false,"zero":false},"axis":null},"y":{"field":"value","type":"quantitative","scale":{"domain":[-0.316,6.641],"nice":false,"zero":false},"axis":{"orient":"right","offset":19,"domain":true,"domainColor":"#d9d9d9","domainWidth":38,"ticks":false,"labels":false,"grid":false,"title":"AIM/Enduse-Japan","titleFontSize":20,"titleFontWeight":"normal","titleColor":"#1a1a1a","titleX":0,"titleY":109,"titleAngle":90,"titleAlign":"center","titleBaseline":"middle"}}}},
 {"data":{"name":"frame"},"mark":{"type":"point","opacity":0},"encoding":{"x":{"field":"year","type":"quantitative","scale":{"domain":[2008,2052],"nice":false,"zero":false},"axis":null},"y":{"field":"value","type":"quantitative","scale":{"domain":[-0.316,6.641],"nice":false,"zero":false},"axis":{"orient":"right","offset":38,"domain":true,"domainColor":"#333333","domainWidth":1,"ticks":true,"values":[-0.316,6.641],"tickSize":-38,"tickColor":"#333333","tickWidth":1,"labels":false,"grid":false,"title":null,"zindex":1}}}}
]},
{"width":271,"height":218,"resolve":{"axis":{"x":"independent","y":"independent"}},"layer":[
 {"data":{"name":"hub_res"},"transform":[{"lookup":"variable","from":{"data":{"name":"ord"},"key":"variable","fields":["rank"]}}],"mark":{"type":"area","opacity":1},
  "encoding":{"x":{"field":"year","type":"quantitative","scale":{"domain":[2008,2052],"nice":false,"zero":false},"axis":{"values":[2010,2015,2020,2025,2030,2035,2040,2045,2050],"labels":false,"ticks":false,"domain":false,"grid":true,"gridColor":"#ebebeb","gridWidth":{"condition":{"test":"datum.value % 10 !== 0","value":0.7},"value":1.4},"title":null}},
   "y":{"field":"value","type":"quantitative","stack":"zero","scale":{"domain":[-0.316,6.641],"nice":false,"zero":false},"axis":{"values":[0,1,2,3,4,5,6],"labelExpr":"datum.value % 2 === 0 ? datum.label : ''","labelFontSize":20,"labelColor":"#4d4d4d","labelPadding":5,"ticks":true,"tickSize":6,"tickColor":"#333333","tickOpacity":{"condition":{"test":"datum.value % 2 !== 0","value":0},"value":1},"domain":false,"grid":true,"gridColor":"#ebebeb","gridWidth":{"condition":{"test":"datum.value % 2 !== 0","value":0.7},"value":1.4},"title":"EJ/yr","titleFontSize":25,"titleFontWeight":"normal","titleColor":"#000000","titleX":-45,"titleY":218,"titleAngle":-90,"titleAlign":"center","titleBaseline":"middle"}},
   "color":{"field":"variable","type":"nominal","scale":{"domain":["Solids","Liquids","Gases","Geothermal","Heat","Hydrogen","Electricity","Solar","Other"],"range":["#414141","#53b9aa","#ceae95","#ee0000","#cdc9c9","#0000cc","#64b932","#ffd700","#9068a8"]},"legend":{"title":"variable"}},
   "order":{"field":"rank","type":"quantitative"}}}
]},
{"width":271,"height":218,"resolve":{"axis":{"x":"independent","y":"independent"}},"layer":[
 {"data":{"name":"hub_ind"},"transform":[{"lookup":"variable","from":{"data":{"name":"ord"},"key":"variable","fields":["rank"]}}],"mark":{"type":"area","opacity":1},
  "encoding":{"x":{"field":"year","type":"quantitative","scale":{"domain":[2008,2052],"nice":false,"zero":false},"axis":{"values":[2010,2015,2020,2025,2030,2035,2040,2045,2050],"labels":false,"ticks":false,"domain":false,"grid":true,"gridColor":"#ebebeb","gridWidth":{"condition":{"test":"datum.value % 10 !== 0","value":0.7},"value":1.4},"title":null}},
   "y":{"field":"value","type":"quantitative","stack":"zero","scale":{"domain":[-0.316,6.641],"nice":false,"zero":false},"axis":{"values":[0,1,2,3,4,5,6],"labels":false,"ticks":false,"domain":false,"grid":true,"gridColor":"#ebebeb","gridWidth":{"condition":{"test":"datum.value % 2 !== 0","value":0.7},"value":1.4},"title":null}},
   "color":{"field":"variable","type":"nominal","scale":{"domain":["Solids","Liquids","Gases","Geothermal","Heat","Hydrogen","Electricity","Solar","Other"],"range":["#414141","#53b9aa","#ceae95","#ee0000","#cdc9c9","#0000cc","#64b932","#ffd700","#9068a8"]},"legend":{"title":"variable"}},
   "order":{"field":"rank","type":"quantitative"}}}
]},
{"width":271,"height":218,"resolve":{"axis":{"x":"independent","y":"independent"}},"layer":[
 {"data":{"name":"hub_tra"},"transform":[{"lookup":"variable","from":{"data":{"name":"ord"},"key":"variable","fields":["rank"]}}],"mark":{"type":"area","opacity":1},
  "encoding":{"x":{"field":"year","type":"quantitative","scale":{"domain":[2008,2052],"nice":false,"zero":false},"axis":{"values":[2010,2015,2020,2025,2030,2035,2040,2045,2050],"labels":false,"ticks":false,"domain":false,"grid":true,"gridColor":"#ebebeb","gridWidth":{"condition":{"test":"datum.value % 10 !== 0","value":0.7},"value":1.4},"title":null}},
   "y":{"field":"value","type":"quantitative","stack":"zero","scale":{"domain":[-0.316,6.641],"nice":false,"zero":false},"axis":{"values":[0,1,2,3,4,5,6],"labels":false,"ticks":false,"domain":false,"grid":true,"gridColor":"#ebebeb","gridWidth":{"condition":{"test":"datum.value % 2 !== 0","value":0.7},"value":1.4},"title":null}},
   "color":{"field":"variable","type":"nominal","scale":{"domain":["Solids","Liquids","Gases","Geothermal","Heat","Hydrogen","Electricity","Solar","Other"],"range":["#414141","#53b9aa","#ceae95","#ee0000","#cdc9c9","#0000cc","#64b932","#ffd700","#9068a8"]},"legend":{"title":"variable"}},
   "order":{"field":"rank","type":"quantitative"}}},
 {"data":{"name":"frame"},"mark":{"type":"point","opacity":0},"encoding":{"x":{"field":"year","type":"quantitative","scale":{"domain":[2008,2052],"nice":false,"zero":false},"axis":null},"y":{"field":"value","type":"quantitative","scale":{"domain":[-0.316,6.641],"nice":false,"zero":false},"axis":{"orient":"right","offset":19,"domain":true,"domainColor":"#d9d9d9","domainWidth":38,"ticks":false,"labels":false,"grid":false,"title":"AIM/Hub-Japan","titleFontSize":20,"titleFontWeight":"normal","titleColor":"#1a1a1a","titleX":0,"titleY":109,"titleAngle":90,"titleAlign":"center","titleBaseline":"middle"}}}},
 {"data":{"name":"frame"},"mark":{"type":"point","opacity":0},"encoding":{"x":{"field":"year","type":"quantitative","scale":{"domain":[2008,2052],"nice":false,"zero":false},"axis":null},"y":{"field":"value","type":"quantitative","scale":{"domain":[-0.316,6.641],"nice":false,"zero":false},"axis":{"orient":"right","offset":38,"domain":true,"domainColor":"#333333","domainWidth":1,"ticks":true,"values":[-0.316,6.641],"tickSize":-38,"tickColor":"#333333","tickWidth":1,"labels":false,"grid":false,"title":null,"zindex":1}}}}
]},
{"width":271,"height":218,"resolve":{"axis":{"x":"independent","y":"independent"}},"layer":[
 {"data":{"name":"ieej_res"},"transform":[{"lookup":"variable","from":{"data":{"name":"ord"},"key":"variable","fields":["rank"]}}],"mark":{"type":"area","opacity":1},
  "encoding":{"x":{"field":"year","type":"quantitative","scale":{"domain":[2008,2052],"nice":false,"zero":false},"axis":{"values":[2010,2015,2020,2025,2030,2035,2040,2045,2050],"labels":false,"ticks":false,"domain":false,"grid":true,"gridColor":"#ebebeb","gridWidth":{"condition":{"test":"datum.value % 10 !== 0","value":0.7},"value":1.4},"title":null}},
   "y":{"field":"value","type":"quantitative","stack":"zero","scale":{"domain":[-0.316,6.641],"nice":false,"zero":false},"axis":{"values":[0,1,2,3,4,5,6],"labelExpr":"datum.value % 2 === 0 ? datum.label : ''","labelFontSize":20,"labelColor":"#4d4d4d","labelPadding":5,"ticks":true,"tickSize":6,"tickColor":"#333333","tickOpacity":{"condition":{"test":"datum.value % 2 !== 0","value":0},"value":1},"domain":false,"grid":true,"gridColor":"#ebebeb","gridWidth":{"condition":{"test":"datum.value % 2 !== 0","value":0.7},"value":1.4},"title":null}},
   "color":{"field":"variable","type":"nominal","scale":{"domain":["Solids","Liquids","Gases","Geothermal","Heat","Hydrogen","Electricity","Solar","Other"],"range":["#414141","#53b9aa","#ceae95","#ee0000","#cdc9c9","#0000cc","#64b932","#ffd700","#9068a8"]},"legend":{"title":"variable"}},
   "order":{"field":"rank","type":"quantitative"}}}
]},
{"width":271,"height":218,"resolve":{"axis":{"x":"independent","y":"independent"}},"layer":[
 {"data":{"name":"ieej_ind"},"transform":[{"lookup":"variable","from":{"data":{"name":"ord"},"key":"variable","fields":["rank"]}}],"mark":{"type":"area","opacity":1},
  "encoding":{"x":{"field":"year","type":"quantitative","scale":{"domain":[2008,2052],"nice":false,"zero":false},"axis":{"values":[2010,2015,2020,2025,2030,2035,2040,2045,2050],"labels":false,"ticks":false,"domain":false,"grid":true,"gridColor":"#ebebeb","gridWidth":{"condition":{"test":"datum.value % 10 !== 0","value":0.7},"value":1.4},"title":null}},
   "y":{"field":"value","type":"quantitative","stack":"zero","scale":{"domain":[-0.316,6.641],"nice":false,"zero":false},"axis":{"values":[0,1,2,3,4,5,6],"labels":false,"ticks":false,"domain":false,"grid":true,"gridColor":"#ebebeb","gridWidth":{"condition":{"test":"datum.value % 2 !== 0","value":0.7},"value":1.4},"title":null}},
   "color":{"field":"variable","type":"nominal","scale":{"domain":["Solids","Liquids","Gases","Geothermal","Heat","Hydrogen","Electricity","Solar","Other"],"range":["#414141","#53b9aa","#ceae95","#ee0000","#cdc9c9","#0000cc","#64b932","#ffd700","#9068a8"]},"legend":{"title":"variable"}},
   "order":{"field":"rank","type":"quantitative"}}}
]},
{"width":271,"height":218,"resolve":{"axis":{"x":"independent","y":"independent"}},"layer":[
 {"data":{"name":"ieej_tra"},"transform":[{"lookup":"variable","from":{"data":{"name":"ord"},"key":"variable","fields":["rank"]}}],"mark":{"type":"area","opacity":1},
  "encoding":{"x":{"field":"year","type":"quantitative","scale":{"domain":[2008,2052],"nice":false,"zero":false},"axis":{"values":[2010,2015,2020,2025,2030,2035,2040,2045,2050],"labels":false,"ticks":false,"domain":false,"grid":true,"gridColor":"#ebebeb","gridWidth":{"condition":{"test":"datum.value % 10 !== 0","value":0.7},"value":1.4},"title":null}},
   "y":{"field":"value","type":"quantitative","stack":"zero","scale":{"domain":[-0.316,6.641],"nice":false,"zero":false},"axis":{"values":[0,1,2,3,4,5,6],"labels":false,"ticks":false,"domain":false,"grid":true,"gridColor":"#ebebeb","gridWidth":{"condition":{"test":"datum.value % 2 !== 0","value":0.7},"value":1.4},"title":null}},
   "color":{"field":"variable","type":"nominal","scale":{"domain":["Solids","Liquids","Gases","Geothermal","Heat","Hydrogen","Electricity","Solar","Other"],"range":["#414141","#53b9aa","#ceae95","#ee0000","#cdc9c9","#0000cc","#64b932","#ffd700","#9068a8"]},"legend":{"title":"variable"}},
   "order":{"field":"rank","type":"quantitative"}}},
 {"data":{"name":"frame"},"mark":{"type":"point","opacity":0},"encoding":{"x":{"field":"year","type":"quantitative","scale":{"domain":[2008,2052],"nice":false,"zero":false},"axis":null},"y":{"field":"value","type":"quantitative","scale":{"domain":[-0.316,6.641],"nice":false,"zero":false},"axis":{"orient":"right","offset":19,"domain":true,"domainColor":"#d9d9d9","domainWidth":38,"ticks":false,"labels":false,"grid":false,"title":"IEEJ_Japan 2017","titleFontSize":20,"titleFontWeight":"normal","titleColor":"#1a1a1a","titleX":0,"titleY":109,"titleAngle":90,"titleAlign":"center","titleBaseline":"middle"}}}},
 {"data":{"name":"frame"},"mark":{"type":"point","opacity":0},"encoding":{"x":{"field":"year","type":"quantitative","scale":{"domain":[2008,2052],"nice":false,"zero":false},"axis":null},"y":{"field":"value","type":"quantitative","scale":{"domain":[-0.316,6.641],"nice":false,"zero":false},"axis":{"orient":"right","offset":38,"domain":true,"domainColor":"#333333","domainWidth":1,"ticks":true,"values":[-0.316,6.641],"tickSize":-38,"tickColor":"#333333","tickWidth":1,"labels":false,"grid":false,"title":null,"zindex":1}}}}
]},
{"width":271,"height":218,"resolve":{"axis":{"x":"independent","y":"independent"}},"layer":[
 {"data":{"name":"times_res"},"transform":[{"lookup":"variable","from":{"data":{"name":"ord"},"key":"variable","fields":["rank"]}}],"mark":{"type":"area","opacity":1},
  "encoding":{"x":{"field":"year","type":"quantitative","scale":{"domain":[2008,2052],"nice":false,"zero":false},"axis":{"values":[2010,2015,2020,2025,2030,2035,2040,2045,2050],"format":"d","labelExpr":"datum.value % 10 === 0 ? datum.label : ''","labelAngle":-45,"labelAlign":"right","labelBaseline":"top","labelFontSize":20,"labelColor":"#4d4d4d","labelPadding":3,"labelOverlap":false,"labelFlush":false,"ticks":true,"tickSize":6,"tickColor":"#333333","tickOpacity":{"condition":{"test":"datum.value % 10 !== 0","value":0},"value":1},"domain":false,"grid":true,"gridColor":"#ebebeb","gridWidth":{"condition":{"test":"datum.value % 10 !== 0","value":0.7},"value":1.4},"title":null}},
   "y":{"field":"value","type":"quantitative","stack":"zero","scale":{"domain":[-0.316,6.641],"nice":false,"zero":false},"axis":{"values":[0,1,2,3,4,5,6],"labelExpr":"datum.value % 2 === 0 ? datum.label : ''","labelFontSize":20,"labelColor":"#4d4d4d","labelPadding":5,"ticks":true,"tickSize":6,"tickColor":"#333333","tickOpacity":{"condition":{"test":"datum.value % 2 !== 0","value":0},"value":1},"domain":false,"grid":true,"gridColor":"#ebebeb","gridWidth":{"condition":{"test":"datum.value % 2 !== 0","value":0.7},"value":1.4},"title":null}},
   "color":{"field":"variable","type":"nominal","scale":{"domain":["Solids","Liquids","Gases","Geothermal","Heat","Hydrogen","Electricity","Solar","Other"],"range":["#414141","#53b9aa","#ceae95","#ee0000","#cdc9c9","#0000cc","#64b932","#ffd700","#9068a8"]},"legend":{"title":"variable"}},
   "order":{"field":"rank","type":"quantitative"}}}
]},
{"width":271,"height":218,"resolve":{"axis":{"x":"independent","y":"independent"}},"layer":[
 {"data":{"name":"times_ind"},"transform":[{"lookup":"variable","from":{"data":{"name":"ord"},"key":"variable","fields":["rank"]}}],"mark":{"type":"area","opacity":1},
  "encoding":{"x":{"field":"year","type":"quantitative","scale":{"domain":[2008,2052],"nice":false,"zero":false},"axis":{"values":[2010,2015,2020,2025,2030,2035,2040,2045,2050],"format":"d","labelExpr":"datum.value % 10 === 0 ? datum.label : ''","labelAngle":-45,"labelAlign":"right","labelBaseline":"top","labelFontSize":20,"labelColor":"#4d4d4d","labelPadding":3,"labelOverlap":false,"labelFlush":false,"ticks":true,"tickSize":6,"tickColor":"#333333","tickOpacity":{"condition":{"test":"datum.value % 10 !== 0","value":0},"value":1},"domain":false,"grid":true,"gridColor":"#ebebeb","gridWidth":{"condition":{"test":"datum.value % 10 !== 0","value":0.7},"value":1.4},"title":null}},
   "y":{"field":"value","type":"quantitative","stack":"zero","scale":{"domain":[-0.316,6.641],"nice":false,"zero":false},"axis":{"values":[0,1,2,3,4,5,6],"labels":false,"ticks":false,"domain":false,"grid":true,"gridColor":"#ebebeb","gridWidth":{"condition":{"test":"datum.value % 2 !== 0","value":0.7},"value":1.4},"title":null}},
   "color":{"field":"variable","type":"nominal","scale":{"domain":["Solids","Liquids","Gases","Geothermal","Heat","Hydrogen","Electricity","Solar","Other"],"range":["#414141","#53b9aa","#ceae95","#ee0000","#cdc9c9","#0000cc","#64b932","#ffd700","#9068a8"]},"legend":{"title":"variable"}},
   "order":{"field":"rank","type":"quantitative"}}}
]},
{"width":271,"height":218,"resolve":{"axis":{"x":"independent","y":"independent"}},"layer":[
 {"data":{"name":"times_tra"},"transform":[{"lookup":"variable","from":{"data":{"name":"ord"},"key":"variable","fields":["rank"]}}],"mark":{"type":"area","opacity":1},
  "encoding":{"x":{"field":"year","type":"quantitative","scale":{"domain":[2008,2052],"nice":false,"zero":false},"axis":{"values":[2010,2015,2020,2025,2030,2035,2040,2045,2050],"format":"d","labelExpr":"datum.value % 10 === 0 ? datum.label : ''","labelAngle":-45,"labelAlign":"right","labelBaseline":"top","labelFontSize":20,"labelColor":"#4d4d4d","labelPadding":3,"labelOverlap":false,"labelFlush":false,"ticks":true,"tickSize":6,"tickColor":"#333333","tickOpacity":{"condition":{"test":"datum.value % 10 !== 0","value":0},"value":1},"domain":false,"grid":true,"gridColor":"#ebebeb","gridWidth":{"condition":{"test":"datum.value % 10 !== 0","value":0.7},"value":1.4},"title":null}},
   "y":{"field":"value","type":"quantitative","stack":"zero","scale":{"domain":[-0.316,6.641],"nice":false,"zero":false},"axis":{"values":[0,1,2,3,4,5,6],"labels":false,"ticks":false,"domain":false,"grid":true,"gridColor":"#ebebeb","gridWidth":{"condition":{"test":"datum.value % 2 !== 0","value":0.7},"value":1.4},"title":null}},
   "color":{"field":"variable","type":"nominal","scale":{"domain":["Solids","Liquids","Gases","Geothermal","Heat","Hydrogen","Electricity","Solar","Other"],"range":["#414141","#53b9aa","#ceae95","#ee0000","#cdc9c9","#0000cc","#64b932","#ffd700","#9068a8"]},"legend":{"title":"variable"}},
   "order":{"field":"rank","type":"quantitative"}}},
 {"data":{"name":"frame"},"mark":{"type":"point","opacity":0},"encoding":{"x":{"field":"year","type":"quantitative","scale":{"domain":[2008,2052],"nice":false,"zero":false},"axis":null},"y":{"field":"value","type":"quantitative","scale":{"domain":[-0.316,6.641],"nice":false,"zero":false},"axis":{"orient":"right","offset":19,"domain":true,"domainColor":"#d9d9d9","domainWidth":38,"ticks":false,"labels":false,"grid":false,"title":"TIMES-Japan","titleFontSize":20,"titleFontWeight":"normal","titleColor":"#1a1a1a","titleX":0,"titleY":109,"titleAngle":90,"titleAlign":"center","titleBaseline":"middle"}}}},
 {"data":{"name":"frame"},"mark":{"type":"point","opacity":0},"encoding":{"x":{"field":"year","type":"quantitative","scale":{"domain":[2008,2052],"nice":false,"zero":false},"axis":null},"y":{"field":"value","type":"quantitative","scale":{"domain":[-0.316,6.641],"nice":false,"zero":false},"axis":{"orient":"right","offset":38,"domain":true,"domainColor":"#333333","domainWidth":1,"ticks":true,"values":[-0.316,6.641],"tickSize":-38,"tickColor":"#333333","tickWidth":1,"labels":false,"grid":false,"title":null,"zindex":1}}}}
]}
],
"config": {
 "font": "Liberation Sans",
 "view": {"stroke": "#333333", "strokeWidth": 1.2},
 "axis": {"labelFont": "Liberation Sans", "titleFont": "Liberation Sans"},
 "legend": {"orient": "none", "legendX": 921, "legendY": 261, "titleFont": "Liberation Sans", "titleFontSize": 25, "titleFontWeight": "normal", "titleColor": "#000000", "titlePadding": 12, "labelFont": "Liberation Sans", "labelFontSize": 20, "labelColor": "#000000", "symbolType": "square", "symbolSize": 1296, "symbolStrokeWidth": 0, "symbolOpacity": 1, "rowPadding": 4, "labelOffset": 14}
}
}
